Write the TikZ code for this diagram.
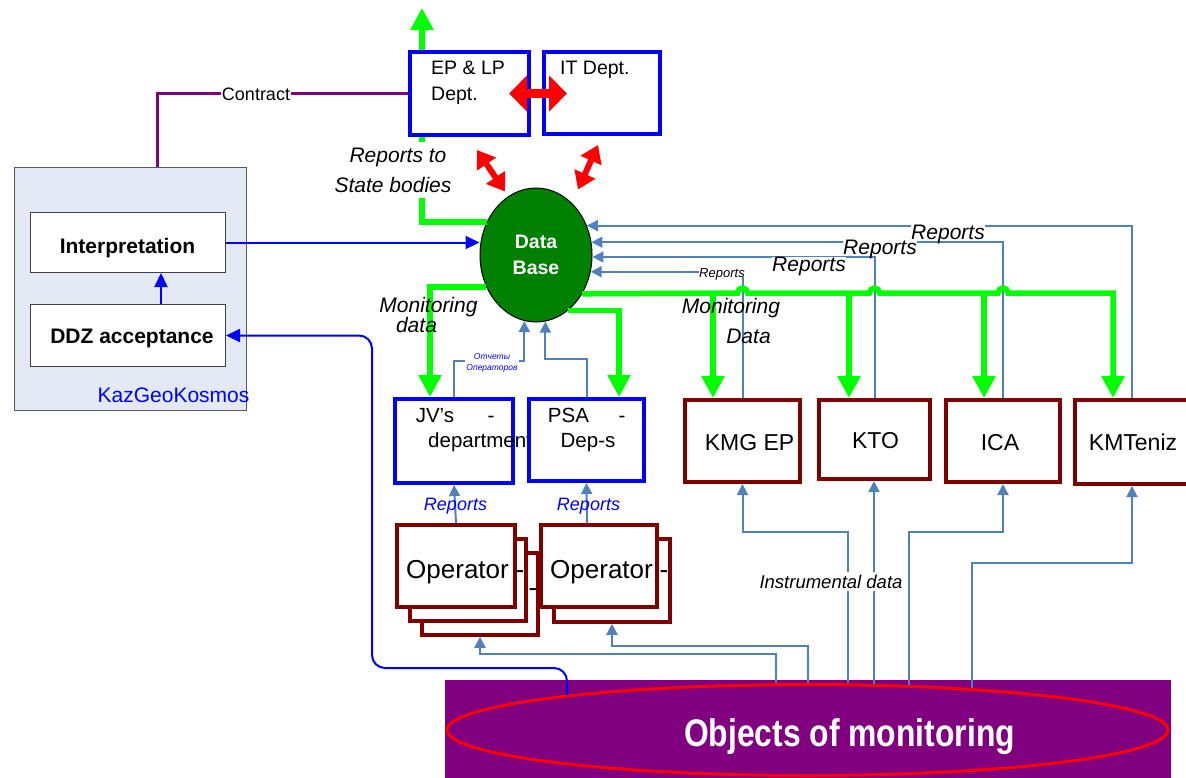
\documentclass[tikz,border=0pt]{standalone}
\usepackage{fontspec}
\usepackage{graphicx}
\setmainfont{Liberation Sans}
\usetikzlibrary{arrows.meta,shapes.geometric,calc}
\definecolor{steel}{RGB}{79,129,189}
\definecolor{dkred}{RGB}{128,0,0}
\definecolor{lgreen}{RGB}{0,255,0}
\definecolor{dbgreen}{RGB}{0,128,0}
\definecolor{purp}{RGB}{128,0,128}
\definecolor{kgkfill}{RGB}{227,234,245}
\definecolor{pblue}{RGB}{0,0,255}
\tikzset{
  bluebox/.style={draw=pblue, line width=4pt, fill=white, inner sep=0pt},
  redbox/.style={draw=dkred, line width=4pt, fill=white, inner sep=0pt},
  opbox/.style={draw=dkred, line width=3.5pt, fill=white, inner sep=0pt, minimum width=116pt, minimum height=82pt},
  graybox/.style={draw=black!75, line width=1pt, fill=white, inner sep=0pt, minimum width=195pt},
  tx/.style={inner sep=0pt, anchor=base, font=\fontsize{#1}{#1}\selectfont},
  txi/.style={tx=#1, font=\fontsize{#1}{#1}\selectfont\itshape},
  txb/.style={tx=#1, font=\fontsize{#1}{#1}\selectfont\bfseries},
  sarr/.style={draw=steel, line width=2pt, -{Triangle[width=11pt,length=11pt]}},
  garr/.style={draw=lgreen, line width=5.5pt, -{Triangle[width=22pt,length=22pt]}},
  gline/.style={draw=lgreen, line width=5.5pt},
  rarrowH/.style={draw=red, line width=9pt, {Triangle[width=35pt,length=18pt]}-{Triangle[width=35pt,length=18pt]}},
  rarrowD/.style={draw=red, line width=6pt, {Triangle[width=22pt,length=17pt]}-{Triangle[width=22pt,length=17pt]}},
  bluearr/.style={draw=pblue, line width=2pt, -{Triangle[width=13pt,length=14pt]}},
  replab/.style={txi=#1, fill=white, inner sep=0pt, text depth=0pt},
}
\begin{document}
\begin{tikzpicture}[x=1pt,y=-1pt]
\useasboundingbox (0,0) rectangle (1186,777);
\clip (0,0) rectangle (1186,777);

% KazGeoKosmos block
\node[draw=black!65, line width=1.2pt, fill=kgkfill, minimum width=232pt, minimum height=243pt, inner sep=0pt] (kgk) at (130.5,289) {};
\node[graybox, minimum height=60pt] (interp) at (128,242.5) {};
\node[graybox, minimum height=62pt] (ddz) at (128,335.5) {};
\node[txb=21] (interpT) at (127.5,253) {Interpretation};
\node[txb=21] (ddzT) at (132,343) {DDZ acceptance};
\node[tx=21, text=pblue] (kgkT) at (173.5,402) {KazGeoKosmos};

% Data base
\node[ellipse, draw=black, line width=1pt, fill=dbgreen, minimum width=112pt, minimum height=134pt, inner sep=0pt, text=white, font=\fontsize{19.5}{26}\selectfont\bfseries, align=center] (db) at (536,255) {Data\\Base};

% JV and PSA
\node[bluebox, minimum width=118pt, minimum height=84pt] (jv) at (454,441) {};
\node[tx=20.5] (jvT1) at (435,422) {JV’s};
\node[tx=20.5] (jvT2) at (491,422) {-};
\node[tx=20.5, anchor=base west] (jvT3) at (428,447) {department};
\node[bluebox, minimum width=115pt, minimum height=82pt] (psa) at (586.5,440) {};
\node[tx=20.5] (psaT1) at (568.5,422) {PSA};
\node[tx=20.5] (psaT2) at (622,422) {-};
\node[tx=20.5] (psaT3) at (588,447) {Dep-s};

% Right boxes
\node[redbox, minimum width=115pt, minimum height=82pt] (kmg) at (742.5,441) {};
\node[redbox, minimum width=111pt, minimum height=79pt] (kto) at (874.5,439.5) {};
\node[redbox, minimum width=114pt, minimum height=82pt] (ica) at (1003,441) {};
\node[redbox, minimum width=140pt, minimum height=84pt] (kmt) at (1145,442) {};
\node[tx=23] (kmgT) at (749.5,450) {KMG EP};
\node[tx=23] (ktoT) at (875.5,448) {KTO};
\node[tx=23] (icaT) at (1000,450) {ICA};
\node[tx=23] (kmtT) at (1133,450) {KMTeniz};

% Objects of monitoring
\node[fill=purp, minimum width=726pt, minimum height=110pt, inner sep=0pt] (obj) at (808,735) {};
\node[ellipse, draw=red, line width=3pt, minimum width=721pt, minimum height=91pt, inner sep=0pt] (objE) at (807.5,730) {};
\node[txb=35, text=white] (objT) at (849.5,746) {\scalebox{0.91}[1.1]{Objects of monitoring}};

% Operators
\node[opbox] (opL3) at (480,594) {};
\node[opbox] (opL2) at (468,580) {};
\node[tx=26] (dash2) at (533,596) {-};
\node[opbox, minimum width=118pt] (opL1) at (456,566) {};
\node[tx=26] (dash1) at (520,578) {-};
\node[tx=26] (opL1T) at (457.5,578) {Operator};
\node[opbox, minimum height=83pt] (opR2) at (612,580.5) {};
\node[tx=26] (dash3) at (664,578) {-};
\node[opbox] (opR1) at (599,566) {};
\node[tx=26] (opR1T) at (601.5,578) {Operator};

% Reports to the data base
\draw[sarr] (kmg.north) |- (db.343.6);
\draw[sarr] (kto.north) |- (db.358);
\draw[sarr] (ica.north) |- (db.13.3);
\draw[sarr] ([xshift=-13pt]kmt.north) |- (db.30);
\draw[sarr] (jv.north) -- ++(0,-36) -| (db.260.5);
\draw[sarr] (psa.north) -- ++(0,-38) -| (db.278);

% Instrumental data
\draw[sarr] ($(objE.center)+(40.5pt,46.7pt)$) |- ([yshift=-48pt]kmg.south) -- (kmg.south);
\draw[sarr] ($(objE.center)+(66.5pt,46.2pt)$) -- ($(kto.south)+(-0.5pt,0)$);
\draw[sarr] ($(objE.center)+(101.5pt,45.1pt)$) |- ([yshift=-48pt]ica.south) -- (ica.south);
\draw[sarr] ($(objE.center)+(164.5pt,41.9pt)$) |- ([shift={(-13pt,-77pt)}]kmt.south) -- ([xshift=-13pt]kmt.south);
\draw[sarr] ($(objE.center)+(-31.5pt,46.8pt)$) |- ([yshift=-17pt]opL3.south) -- (opL3.south);
\draw[sarr] (objE.north) |- ([yshift=-22pt]opR2.south) -- (opR2.south);

% Operator reports
\draw[sarr] (opL1.north) -- (jv.south);
\draw[sarr] ([xshift=-12pt]opR1.north) -- (psa.south);
\node[txi=18, text=pblue] (repL) at (455.5,510) {Reports};
\node[txi=18, text=pblue] (repR) at (588.5,510) {Reports};
\node[fill=white, inner xsep=1pt, inner ysep=0.5pt, text=pblue, align=center, font=\fontsize{8.5}{11}\selectfont\itshape] (otch) at (492,362.5) {Отчеты\\Операторов};

% Report labels
\node[replab=21] (rep1) at (948,239) {Reports};
\node[replab=21] (rep2) at (880,254) {Reports};
\node[replab=21] (rep3) at (809,271) {Reports};
\node[replab=13] (rep4) at (722,277) {Reports};
\node[txi=18.5, fill=white, inner xsep=4pt, inner ysep=3pt] (instT) at (831,588) {Instrumental data};

% Green monitoring data lines
\coordinate (jKMG) at (713,293);
\coordinate (jKTO) at (849,293);
\coordinate (jICA) at (984,293);
\coordinate (jKMT) at (1113,293);
\draw[garr] (db.320.5) -- (737.5,293) arc[start angle=180,end angle=0,radius=5pt]
  -- (869.5,293) arc[start angle=180,end angle=0,radius=5pt]
  -- (998,293) arc[start angle=180,end angle=0,radius=5pt]
  -- (jKMT) -- (jKMT |- kmt.north);
\draw[garr] (jKMG) -- (jKMG |- kmg.north);
\draw[garr] (jKTO) -- (jKTO |- kto.north);
\draw[garr] (jICA) -- (jICA |- ica.north);
\draw[garr] (db.213) -| ([xshift=-24pt]jv.north);
\draw[garr] (db.300) -| ([xshift=32.5pt]psa.north);
\coordinate (stateTop) at (422,8);
\draw[garr] (db.146) -| (stateTop);

\node[txi=21] (mdL1) at (428.5,312) {Monitoring};
\node[txi=21] (mdL2) at (416.5,332) {data};
\node[txi=21] (mdR1) at (731,313) {Monitoring};
\node[txi=21] (mdR2) at (748.5,343) {Data};

% EP & LP and IT departments
\node[bluebox, minimum width=119pt, minimum height=83pt] (ep) at (469.5,93.5) {};
\node[bluebox, minimum width=116pt, minimum height=82pt] (it) at (602,93) {};
\node[tx=19.5, anchor=base west] (epT1) at (431,74) {EP \& LP};
\node[tx=19.5, anchor=base west] (epT2) at (431,100) {Dept.};
\node[tx=19.5, anchor=base west] (itT) at (560,74) {IT Dept.};

% Contract
\draw[draw=purp, line width=3pt] ([xshift=26.5pt]kgk.north) |- (ep.west);
\node[tx=18, fill=white, inner sep=0.5pt] (contractT) at (256,100.5) {Contract};

\node[txi=21, fill=white, inner ysep=6pt, inner xsep=1pt] (rsb1) at (398,162) {Reports to};
\node[txi=21, fill=white, inner ysep=6pt, inner xsep=1pt] (rsb2) at (393,192) {State bodies};

% Red arrows
\draw[rarrowH, shorten <=-22pt, shorten >=-25pt] (ep.east) -- (ep.east -| it.west);
\draw[rarrowD] ([shift={(7.5pt,-13pt)}]ep.south) -- ([shift={(-31pt,-4pt)}]db.north);
\draw[rarrowD] ([shift={(-4pt,-9pt)}]it.south) -- ([shift={(42pt,-2pt)}]db.north);

% Blue connectors of KazGeoKosmos
\draw[bluearr] (interp.east) -- (interp.east -| db.west);
\draw[bluearr] ([xshift=33pt]ddz.north) -- ([xshift=33pt]interp.south);
\coordinate (bend) at (372,668);
\draw[bluearr, rounded corners=13pt] ($(objE.center)+(-240.5pt,35.1pt)$) |- (bend) |- (ddz.east);
\end{tikzpicture}
\end{document}
